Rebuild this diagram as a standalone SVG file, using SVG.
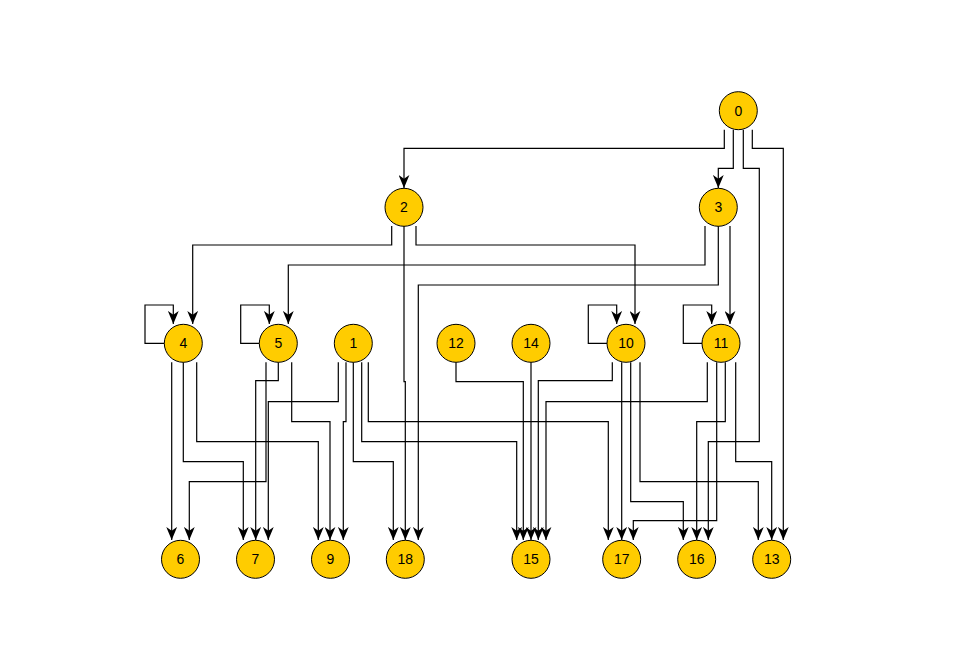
<svg xmlns="http://www.w3.org/2000/svg" width="978" height="671" viewBox="0 0 978 671">
<style>
.n circle{fill:#FFCC00;stroke:#000;stroke-width:1}
.n text{font-family:"Liberation Sans",Arial,sans-serif;font-size:14px;fill:#000;text-anchor:middle;dominant-baseline:central}
.e polyline{fill:none;stroke:#000;stroke-width:1.2;marker-end:url(#arr)}
</style>
<defs>
<marker id="arr" markerUnits="userSpaceOnUse" markerWidth="13" markerHeight="11" viewBox="0 0 12 10" refX="12" refY="5" orient="auto">
<path d="M0 0 L12 5 L0 10 L3.5 5 Z" fill="#000"/>
</marker>
</defs>
<rect width="978" height="671" fill="#fff"/>
<g id="connectors" class="e">
<polyline points="724.3,129.7 724.3,148.3 404,148.3 404,188"/>
<polyline points="733.3,129.7 733.3,168.3 718.3,168.3 718.3,188"/>
<polyline points="743.3,129.7 743.3,168.3 759.3,168.3 759.3,441.7 708.3,441.7 708.3,540"/>
<polyline points="752.3,129.7 752.3,148.3 783.3,148.3 783.3,540"/>
<polyline points="391.7,226 391.7,245 192.7,245 192.7,324"/>
<polyline points="404,226 404,381.7 405.3,381.7 405.3,540"/>
<polyline points="416,226 416,245 635,245 635,324"/>
<polyline points="705,226 705,265 288.3,265 288.3,324"/>
<polyline points="718.3,226 718.3,285 418.3,285 418.3,540"/>
<polyline points="730,226 730,324"/>
<polyline points="164.3,343.3 145,343.3 145,305 173.3,305 173.3,324"/>
<polyline points="259.3,343.3 240.7,343.3 240.7,305 269.3,305 269.3,324"/>
<polyline points="607,343.3 588.3,343.3 588.3,305 616.7,305 616.7,324"/>
<polyline points="702,343.3 683.3,343.3 683.3,305 711.7,305 711.7,324"/>
<polyline points="171.7,362.3 171.7,540"/>
<polyline points="183.3,362.3 183.3,461.7 243.3,461.7 243.3,540"/>
<polyline points="196.7,362.3 196.7,441.7 318.3,441.7 318.3,540"/>
<polyline points="278.3,362.3 278.3,380.7 255.7,380.7 255.7,540"/>
<polyline points="266,362.3 266,481.7 189.3,481.7 189.3,540"/>
<polyline points="291.7,362.3 291.7,421.7 330,421.7 330,540"/>
<polyline points="338.3,362.3 338.3,401.7 268.3,401.7 268.3,540"/>
<polyline points="346,362.3 346,421.7 343.3,421.7 343.3,540"/>
<polyline points="353.3,362.3 353.3,461.7 393.3,461.7 393.3,540"/>
<polyline points="361.7,362.3 361.7,441.7 516.7,441.7 516.7,540"/>
<polyline points="368.3,362.3 368.3,421.7 608.3,421.7 608.3,540"/>
<polyline points="456,362.3 456,381.7 523.3,381.7 523.3,540"/>
<polyline points="531,362.3 531,540"/>
<polyline points="612.3,362.3 612.3,380.7 538.3,380.7 538.3,540"/>
<polyline points="621.7,362.3 621.7,540"/>
<polyline points="630.7,362.3 630.7,501.7 683.3,501.7 683.3,540"/>
<polyline points="640,362.3 640,481.7 758.3,481.7 758.3,540"/>
<polyline points="707.3,362.3 707.3,401.7 546,401.7 546,540"/>
<polyline points="716.7,362.3 716.7,520.7 633.3,520.7 633.3,540"/>
<polyline points="725.3,362.3 725.3,421.7 696.7,421.7 696.7,540"/>
<polyline points="735.7,362.3 735.7,461.7 771.7,461.7 771.7,540"/>
</g>
<g id="node-0" class="n"><circle cx="738.3" cy="110.7" r="19"/><text x="738.3" y="110.7">0</text></g>
<g id="node-2" class="n"><circle cx="404" cy="207.3" r="19"/><text x="404" y="207.3">2</text></g>
<g id="node-3" class="n"><circle cx="718.3" cy="207.3" r="19"/><text x="718.3" y="207.3">3</text></g>
<g id="node-4" class="n"><circle cx="183.3" cy="343.3" r="19"/><text x="183.3" y="343.3">4</text></g>
<g id="node-5" class="n"><circle cx="278.3" cy="343.3" r="19"/><text x="278.3" y="343.3">5</text></g>
<g id="node-1" class="n"><circle cx="353.3" cy="343.3" r="19"/><text x="353.3" y="343.3">1</text></g>
<g id="node-12" class="n"><circle cx="456" cy="343.3" r="19"/><text x="456" y="343.3">12</text></g>
<g id="node-14" class="n"><circle cx="531" cy="343.3" r="19"/><text x="531" y="343.3">14</text></g>
<g id="node-10" class="n"><circle cx="626" cy="343.3" r="19"/><text x="626" y="343.3">10</text></g>
<g id="node-11" class="n"><circle cx="721" cy="343.3" r="19"/><text x="721" y="343.3">11</text></g>
<g id="node-6" class="n"><circle cx="180.5" cy="559.3" r="19"/><text x="180.5" y="559.3">6</text></g>
<g id="node-7" class="n"><circle cx="255.5" cy="559.3" r="19"/><text x="255.5" y="559.3">7</text></g>
<g id="node-9" class="n"><circle cx="330.5" cy="559.3" r="19"/><text x="330.5" y="559.3">9</text></g>
<g id="node-18" class="n"><circle cx="405.3" cy="559.3" r="19"/><text x="405.3" y="559.3">18</text></g>
<g id="node-15" class="n"><circle cx="531" cy="559.3" r="19"/><text x="531" y="559.3">15</text></g>
<g id="node-17" class="n"><circle cx="621.7" cy="559.3" r="19"/><text x="621.7" y="559.3">17</text></g>
<g id="node-16" class="n"><circle cx="696.7" cy="559.3" r="19"/><text x="696.7" y="559.3">16</text></g>
<g id="node-13" class="n"><circle cx="771.7" cy="559.3" r="19"/><text x="771.7" y="559.3">13</text></g>
</svg>
